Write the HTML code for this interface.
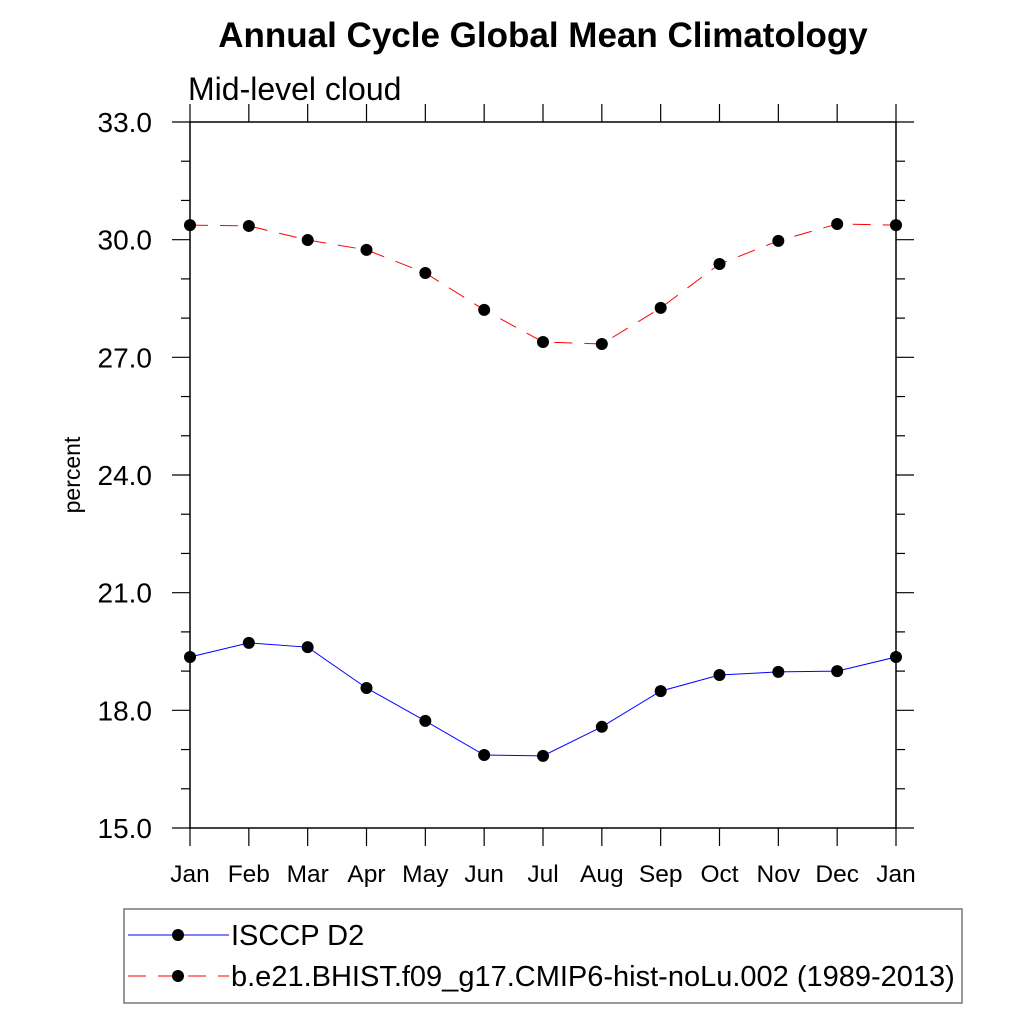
<!DOCTYPE html>
<html><head><meta charset="utf-8"><style>
body{margin:0;background:#fff;font-family:"Liberation Sans",sans-serif}
</style></head><body>
<svg width="1024" height="1024" xmlns="http://www.w3.org/2000/svg" font-family="Liberation Sans, sans-serif">
<rect width="1024" height="1024" fill="#fff"/>
<text x="543" y="47" text-anchor="middle" font-size="35" font-weight="bold">Annual Cycle Global Mean Climatology</text>
<text x="188" y="100" font-size="32">Mid-level cloud</text>
<text transform="translate(80,475) rotate(-90)" text-anchor="middle" font-size="23">percent</text>
<g id="axes"></g>
<g id="series"></g>
<rect x="124" y="909" width="838" height="94" fill="none" stroke="#777" stroke-width="1.5"/>
<g>
<line x1="128" y1="935" x2="229" y2="935" stroke="#00f" stroke-width="1"/>
<circle cx="178" cy="935" r="6" fill="#000"/>
<text x="231" y="945" font-size="29">ISCCP D2</text>
</g>
<g>
<line x1="128" y1="976" x2="229" y2="976" stroke="#f00" stroke-width="1" stroke-dasharray="18,12"/>
<circle cx="178" cy="976" r="6" fill="#000"/>
<text x="231" y="986" font-size="29">b.e21.BHIST.f09_g17.CMIP6-hist-noLu.002 (1989-2013)</text>
</g>
</svg>
<script>
const months=["Jan","Feb","Mar","Apr","May","Jun","Jul","Aug","Sep","Oct","Nov","Dec","Jan"];
const yTicks=[15,18,21,24,27,30,33];
const isccp=[19.36,19.72,19.61,18.57,17.73,16.86,16.84,17.58,18.49,18.90,18.98,19.00,19.36];
const model=[30.37,30.35,29.99,29.74,29.15,28.21,27.39,27.34,28.26,29.38,29.97,30.40,30.37];
const L=190,R=896,T=122,B=828,ymin=15,ymax=33;
const x=i=>L+(R-L)*i/(months.length-1);
const y=v=>B-(v-ymin)/(ymax-ymin)*(B-T);
const NS="http://www.w3.org/2000/svg";
function mk(tag,a,p){const e=document.createElementNS(NS,tag);for(const k in a)e.setAttribute(k,a[k]);p.appendChild(e);return e;}
const ax=document.getElementById('axes');
const fr=mk('rect',{x:L,y:T,width:R-L,height:B-T,fill:'none',stroke:'#000','stroke-width':1.5},ax);


for(let v=ymin;v<=ymax;v++){
  const maj=(v-ymin)%3===0,yy=y(v),len=maj?18:9;
  mk('line',{x1:L-len,y1:yy,x2:L,y2:yy,stroke:'#000','stroke-width':1.2},ax);
  mk('line',{x1:R,y1:yy,x2:R+len,y2:yy,stroke:'#000','stroke-width':1.2},ax);
}
yTicks.forEach(v=>{const t=mk('text',{x:152,y:y(v)+10,'text-anchor':'end','font-size':28},ax);t.textContent=v.toFixed(1);

});
months.forEach((m,i)=>{
  mk('line',{x1:x(i),y1:B,x2:x(i),y2:B+18,stroke:'#000','stroke-width':1.2},ax);
  mk('line',{x1:x(i),y1:T-18,x2:x(i),y2:T,stroke:'#000','stroke-width':1.2},ax);
  const t=mk('text',{x:x(i),y:882,'text-anchor':'middle','font-size':24.5},ax);t.textContent=m;
  
  
});
const sg=document.getElementById('series');
function series(vals,color,dash,name){
  const g=mk('g',{},sg);
  
  
  const pl=mk('polyline',{points:vals.map((v,i)=>x(i)+','+y(v)).join(' '),fill:'none',stroke:color,'stroke-width':1},g);
  if(dash)pl.setAttribute('stroke-dasharray',dash);
  vals.forEach((v,i)=>{const c=mk('circle',{cx:x(i),cy:y(v),r:6,fill:'#000'},g);
  
  });
}
series(model,'#f00','18,12','series-model');
series(isccp,'#00f',null,'series-isccp');
</script>
</body></html>
